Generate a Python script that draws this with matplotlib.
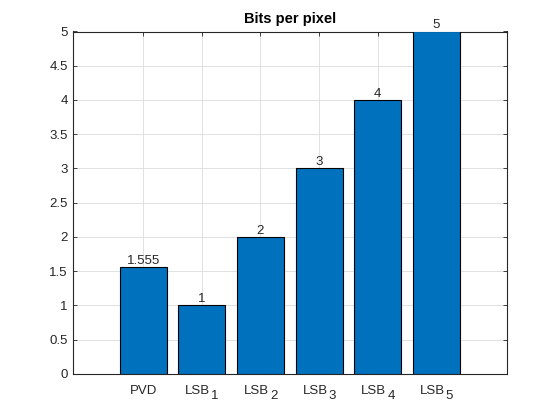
import numpy as np
import matplotlib
matplotlib.use('Agg')
import matplotlib.pyplot as plt

plt.rcParams['font.family'] = ['Liberation Sans', 'DejaVu Sans']

# datos
cats = ['PVD', 'LSB', 'LSB', 'LSB', 'LSB', 'LSB']
subs = ['', '1', '2', '3', '4', '5']
bpp = [1.555, 1, 2, 3, 4, 5]
bpp_txt = ['1.555', '1', '2', '3', '4', '5']
x = np.arange(1, len(bpp) + 1)

fig = plt.figure(figsize=(5.6, 4.2), dpi=100)
ax = fig.add_axes([0.13, 0.11, 0.775, 0.815])

ax.bar(x, bpp, width=0.8, color='#0072BD', edgecolor='black', linewidth=0.8, zorder=3)
for xi, v, t in zip(x, bpp, bpp_txt):
    ax.text(xi, v, t, ha='center', va='bottom', fontsize=9.5, color='#262626')

ax.set_xlim(-0.2, 7.2)
ax.set_ylim(0, 5)
ax.set_xticks(x)
ax.set_xticklabels([''] * len(x))
ax.set_yticks(np.arange(0, 5.01, 0.5))
ax.set_yticklabels(['0', '0.5', '1', '1.5', '2', '2.5', '3', '3.5', '4', '4.5', '5'],
                   fontsize=9.5, color='#262626')
ax.tick_params(direction='in', length=3, top=True, right=True, width=0.6, color='#262626')

# etiquetas del eje x con subindice estilo matlab
tr = ax.get_xaxis_transform()
for xi, c, s in zip(x, cats, subs):
    if s == '':
        ax.annotate(c, xy=(xi, 0), xycoords=tr, xytext=(0, -14.2), textcoords='offset points',
                    ha='center', va='baseline', fontsize=9.5, color='#262626')
    else:
        ax.annotate(c, xy=(xi, 0), xycoords=tr, xytext=(6.1, -14.2), textcoords='offset points',
                    ha='right', va='baseline', fontsize=9.5, color='#262626')
        ax.annotate(s, xy=(xi, 0), xycoords=tr, xytext=(6.8, -18.0), textcoords='offset points',
                    ha='left', va='baseline', fontsize=9.5, color='#262626')

ax.grid(True, color='#dcdcdc', linewidth=0.6, zorder=0)
ax.set_axisbelow(True)
for s in ax.spines.values():
    s.set_color('#262626')
    s.set_linewidth(0.8)
ax.set_title('Bits per pixel', fontsize=10.5, fontweight='bold', pad=6)

fig.savefig('out.png', dpi=100)
